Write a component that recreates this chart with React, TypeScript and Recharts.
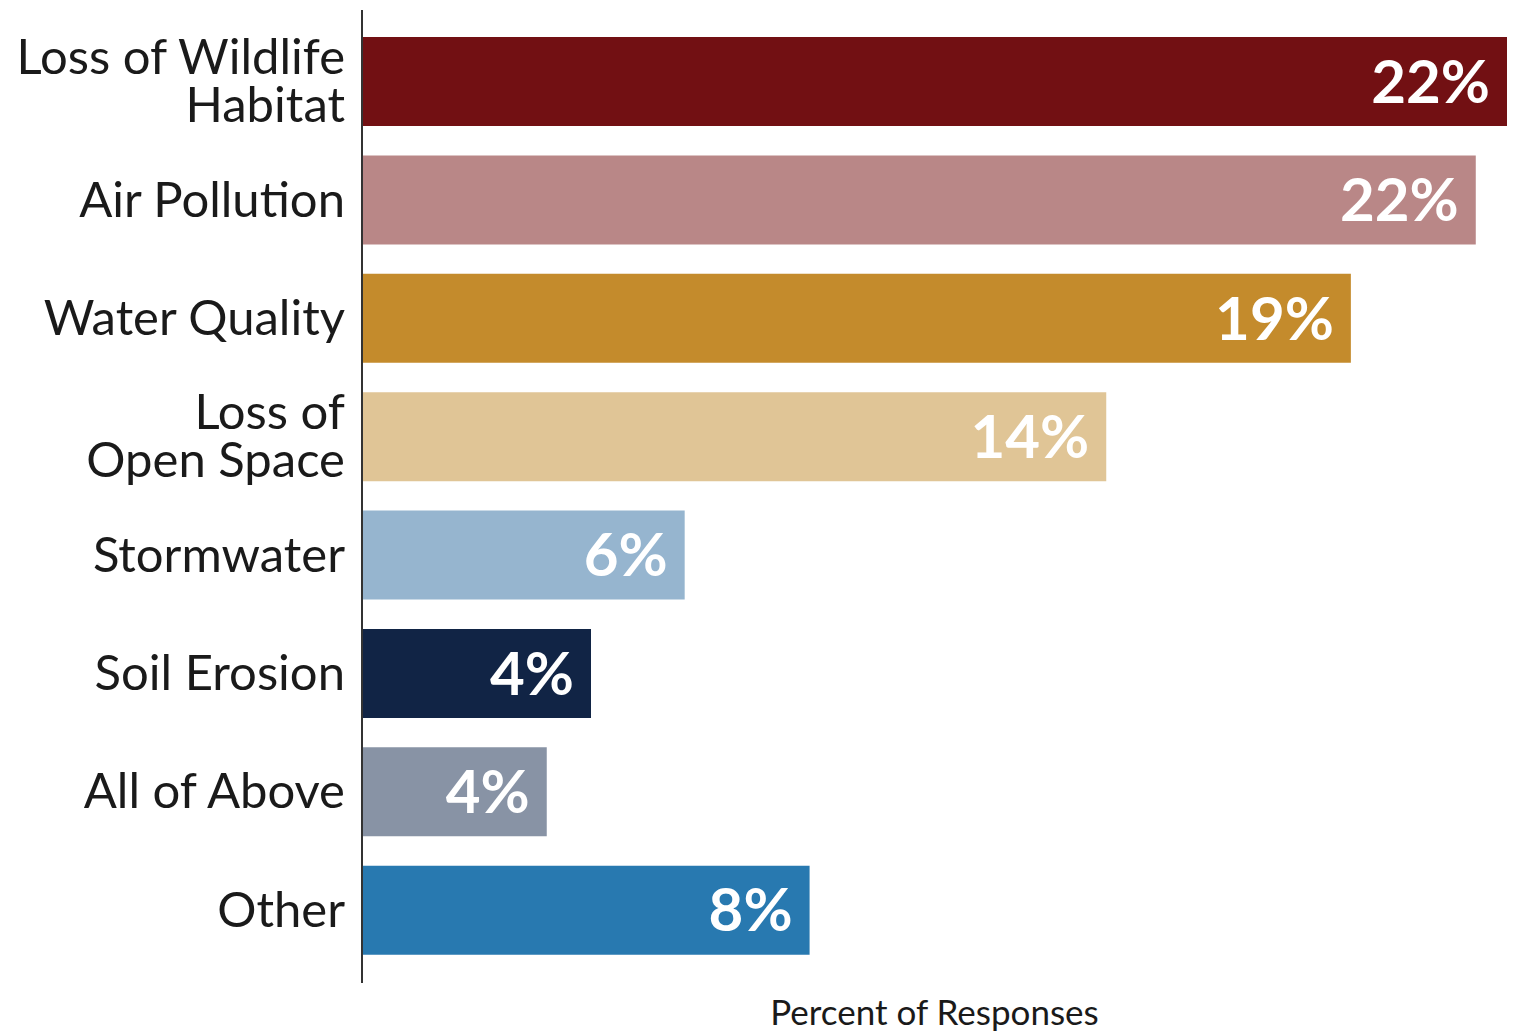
import React from "react";
import { BarChart, Bar, XAxis, YAxis, Cell, LabelList } from "recharts";

const categories = [
  "Loss of Wildlife\nHabitat",
  "Air Pollution",
  "Water Quality",
  "Loss of\nOpen Space",
  "Stormwater",
  "Soil Erosion",
  "All of Above",
  "Other",
];
const values = [22.0, 21.4, 19.0, 14.3, 6.2, 4.4, 3.55, 8.6];
const valueLabels = ["22%", "22%", "19%", "14%", "6%", "4%", "4%", "8%"];
const colors = [
  "#721013",
  "#B98787",
  "#C48B2C",
  "#E0C596",
  "#96B5CF",
  "#112445",
  "#8893A5",
  "#2879B0",
];
const axisTitle = "Percent of Responses";

const data = categories.map((c, i) => ({ name: c, value: values[i], label: valueLabels[i] }));

const FONT = "Lato, 'Open Sans', sans-serif";

const CategoryTick = (props: any) => {
  const { x, y, payload } = props;
  const lines = String(payload.value).split("\n");
  const lh = 48;
  const startDy = -((lines.length - 1) * lh) / 2;
  const tx = x - 9;
  return (
    <text x={tx} y={y} textAnchor="end" fontFamily={FONT} fontSize={49} fill="#1a1a1a">
      {lines.map((l, i) => (
        <tspan key={i} x={tx} dy={i === 0 ? startDy + 17 : lh}>
          {l}
        </tspan>
      ))}
    </text>
  );
};

export default function App() {
  return (
    <div style={{ position: "absolute", left: 0, top: 0, width: 1514, height: 1032, background: "#fff" }}>
      <BarChart
        width={1514}
        height={1032}
        data={data}
        layout="vertical"
        margin={{ top: 10, right: 7, bottom: 0, left: 0 }}
      >
        <XAxis
          type="number"
          domain={[0, 22]}
          tick={false}
          axisLine={false}
          tickLine={false}
          height={49}
          label={{
            value: axisTitle,
            position: "insideBottom",
            offset: 7,
            fontFamily: FONT,
            fontSize: 35,
            fill: "#1a1a1a",
          }}
        />
        <YAxis
          type="category"
          dataKey="name"
          width={362}
          padding={{ top: 12, bottom: 14 }}
          axisLine={{ stroke: "#333", strokeWidth: 2 }}
          tickLine={false}
          tick={<CategoryTick />}
          interval={0}
        />
        <Bar dataKey="value" barSize={89} isAnimationActive={false}>
          {data.map((d, i) => (
            <Cell key={i} fill={colors[i]} />
          ))}
          <LabelList
            dataKey="label"
            position="insideRight"
            offset={17}
            fill="#ffffff"
            fontFamily={FONT}
            fontWeight={700}
            fontSize={60}
          />
        </Bar>
      </BarChart>
    </div>
  );
}
